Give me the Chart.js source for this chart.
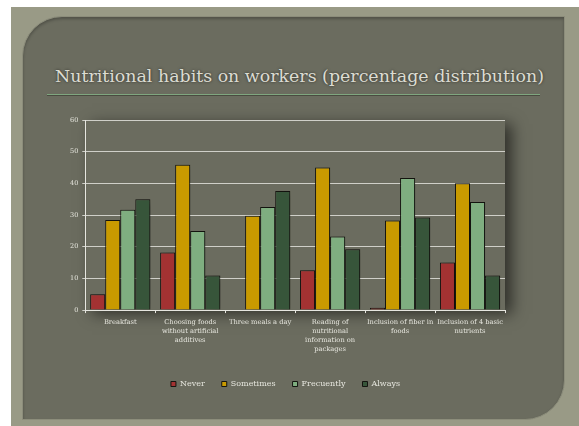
<!DOCTYPE html>
<html>
<head>
<meta charset="utf-8">
<script src="https://cdn.jsdelivr.net/npm/chart.js@4.4.1/dist/chart.umd.min.js"></script>
<style>
  html, body { margin: 0; padding: 0; background: #ffffff; }
  body { width: 579px; height: 426px; position: relative; overflow: hidden; }
  .outer { position: absolute; left: 11px; top: 7px; width: 568px; height: 419px; background: #999a86; }
  .panel {
    position: absolute; left: 22px; top: 16px; width: 541px; height: 402px;
    background: #6b6c5f; border: 1px solid #8c8d7b;
    border-radius: 40px 0 40px 0;
    box-shadow: inset 0 2px 3px rgba(0,0,0,0.25);
  }
  .title {
    position: absolute; left: 22px; top: 66px; width: 555px; text-align: center;
    font-family: "DejaVu Serif", serif; font-size: 17.4px; color: #dcdcd2;
    text-shadow: 0 0 3px rgba(0,0,0,0.6);
    white-space: nowrap;
  }
  .rule { position: absolute; left: 47px; top: 94px; width: 493px; height: 1px; background: #7fa67f; box-shadow: 0 1px 0 #4a4b40; }
  canvas { position: absolute; left: 0; top: 0; }
</style>
</head>
<body>
<div class="outer"></div>
<div class="panel"></div>
<div class="title">Nutritional habits on workers (percentage distribution)</div>
<div class="rule"></div>
<canvas id="habitsChart" width="579" height="426"></canvas>
<script>
// Categories and series
const categories = [
  'Breakfast',
  ['Choosing foods', 'without artificial', 'additives'],
  'Three meals a day',
  ['Reading of', 'nutritional', 'information on', 'packages'],
  ['Inclusion of fiber in', 'foods'],
  ['Inclusion of 4 basic', 'nutrients']
];
const never = [5.0, 18.2, 0, 12.6, 0.7, 15.0];
const sometimes = [28.4, 45.9, 29.8, 45.0, 28.3, 40.0];
const frecuently = [31.7, 25.0, 32.5, 23.2, 41.7, 34.1];
const always = [35.0, 10.9, 37.6, 19.2, 29.2, 10.9];
const yTicks = [0, 10, 20, 30, 40, 50, 60];

const panelColor = '#6b6c5f';
const textColor = '#e6e6de';

// Shadow behind the plot area and the bars
const shadowPlugin = {
  id: 'shadows',
  beforeDraw(chart) {
    const a = chart.chartArea;
    const ctx = chart.ctx;
    ctx.save();
    ctx.shadowColor = 'rgba(0,0,0,0.55)';
    ctx.shadowBlur = 14;
    ctx.shadowOffsetX = 7;
    ctx.shadowOffsetY = 4;
    ctx.fillStyle = panelColor;
    ctx.fillRect(a.left, a.top, a.right - a.left, a.bottom - a.top);
    ctx.restore();
  },
  beforeDatasetsDraw(chart) {
    const ctx = chart.ctx;
    ctx.save();
    ctx.shadowColor = 'rgba(0,0,0,0.45)';
    ctx.shadowBlur = 8;
    ctx.shadowOffsetX = 5;
    ctx.shadowOffsetY = 2;
  },
  afterDatasetsDraw(chart) {
    chart.ctx.restore();
  }
};

function makeSeries(label, data, color) {
  return {
    label: label,
    data: data,
    backgroundColor: color,
    borderColor: '#151510',
    borderWidth: 1,
    categoryPercentage: 0.86,
    barPercentage: 1
  };
}

new Chart(document.getElementById('habitsChart'), {
  type: 'bar',
  data: {
    labels: categories,
    datasets: [
      makeSeries('Never', never, '#a33232'),
      makeSeries('Sometimes', sometimes, '#c99a00'),
      makeSeries('Frecuently', frecuently, '#7fae80'),
      makeSeries('Always', always, '#37553a')
    ]
  },
  options: {
    responsive: false,
    devicePixelRatio: 1,
    animation: false,
    layout: {
      padding: { left: 66, right: 74, top: 120, bottom: 28 }
    },
    scales: {
      y: {
        min: 0,
        max: 60,
        afterBuildTicks: function(axis) {
          axis.ticks = yTicks.map(v => ({ value: v }));
        },
        border: { color: '#e6e6e0', width: 1 },
        grid: {
          color: 'rgba(225,225,218,0.85)',
          lineWidth: 1,
          tickLength: 3
        },
        ticks: {
          color: textColor,
          padding: 4,
          font: { family: 'DejaVu Serif', size: 6.5 }
        }
      },
      x: {
        afterFit: function(axis) {
          axis.height += 4;
        },
        border: { color: '#e6e6e0', width: 1 },
        grid: {
          drawOnChartArea: false,
          color: '#e6e6e0',
          tickLength: 3
        },
        ticks: {
          color: textColor,
          padding: 5,
          maxRotation: 0,
          autoSkip: false,
          font: { family: 'DejaVu Serif', size: 6.7, lineHeight: 1.34 }
        }
      }
    },
    plugins: {
      legend: {
        position: 'bottom',
        labels: {
          color: textColor,
          boxWidth: 5,
          boxHeight: 5,
          padding: 17,
          font: { family: 'DejaVu Serif', size: 8 }
        }
      },
      tooltip: { enabled: false }
    }
  },
  plugins: [shadowPlugin]
});
</script>
</body>
</html>
